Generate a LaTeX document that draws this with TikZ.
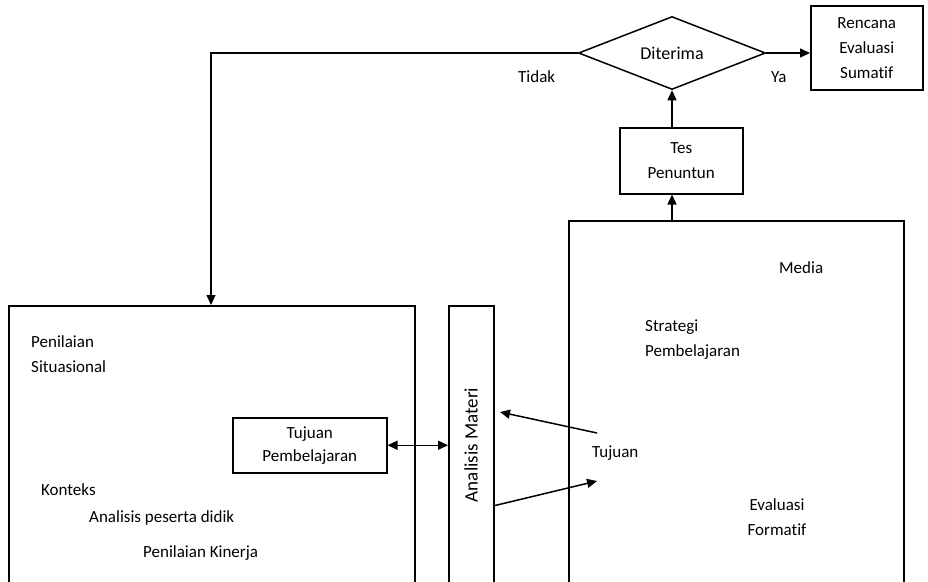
\documentclass[tikz,border=0pt]{standalone}
\usepackage{fontspec}
\setmainfont[Ligatures=NoCommon]{Carlito}
\usetikzlibrary{shapes.geometric,arrows.meta}
\begin{document}
\begin{tikzpicture}[x=1pt,y=-1pt,
  every node/.style={font=\fontsize{17}{25}\selectfont},
  box/.style={draw, line width=1.5pt, inner sep=0pt},
  lbl/.style={inner sep=0pt, align=left, anchor=west},
  conn/.style={line width=1.5pt, -{Triangle[length=10pt,width=9pt]}},
  dconn/.style={line width=1.5pt, {Triangle[length=10pt,width=9pt]}-{Triangle[length=10pt,width=9pt]}},
  line/.style={line width=1.5pt}]
\useasboundingbox (0,0) rectangle (928,581);
% boxes
\node[box, anchor=north west, minimum width=406pt, minimum height=280pt] (sit) at (8,305) {};
\node[box, anchor=north west, minimum width=45pt, minimum height=280pt] (am) at (448,305) {};
\node[rotate=90, font=\fontsize{19}{25}\selectfont] (amt) at (471,445) {Analisis Materi};
\node[box, anchor=north west, minimum width=335pt, minimum height=365pt] (rb) at (568,220) {};
\node[box, anchor=north west, minimum width=154pt, minimum height=55pt, align=center, font=\fontsize{17}{23}\selectfont] (tp) at (232,417) {Tujuan\\Pembelajaran};
\node[box, anchor=north west, minimum width=123pt, minimum height=66pt, align=center] (tes) at (619,127) {Tes\\Penuntun};
\node[box, anchor=north west, minimum width=112pt, minimum height=84pt, align=center] (ren) at (810,5) {Rencana\\Evaluasi\\Sumatif};
\node[draw, line width=1.5pt, diamond, aspect=2.56, minimum width=187pt, minimum height=73pt, inner sep=0pt, font=\fontsize{18}{25}\selectfont] (dit) at (672,53) {Diterima};
% labels
\node[lbl] (ps) at (31,354) {Penilaian\\Situasional};
\node[lbl] (kon) at (41,490) {Konteks};
\node[lbl] (apd) at (89,518) {Analisis peserta didik};
\node[lbl] (pk) at (143,553) {Penilaian Kinerja};
\node[lbl] (med) at (779,268) {Media};
\node[lbl] (sp) at (645,340) {Strategi\\Pembelajaran};
\node[lbl] (tuj) at (592,453) {Tujuan};
\node[align=center, inner sep=0pt] (ef) at (777,517) {Evaluasi\\Formatif};
\node[lbl] (tidak) at (518,77) {Tidak};
\node[lbl] (ya) at (771,77) {Ya};
% connectors
\coordinate (corner) at (211,53);
\draw[conn, line width=1.2pt] (dit.west) -- (corner) -- (corner |- sit.north);
\draw[conn] (dit.east) -- (ren.west |- dit.east);
\draw[conn] (tes.north -| dit.south) -- (dit.south);
\draw[conn] (rb.north -| dit.south) -- (tes.south -| dit.south);
\draw[dconn] (tp.east) -- (tp.east -| am.west);
\coordinate (a1) at (597,433);
\coordinate (a2) at (500,412);
\coordinate (b1) at (493,506);
\coordinate (b2) at (597,481);
\draw[conn] (a1) -- (a2);
\draw[conn] (b1) -- (b2);
\end{tikzpicture}
\end{document}
